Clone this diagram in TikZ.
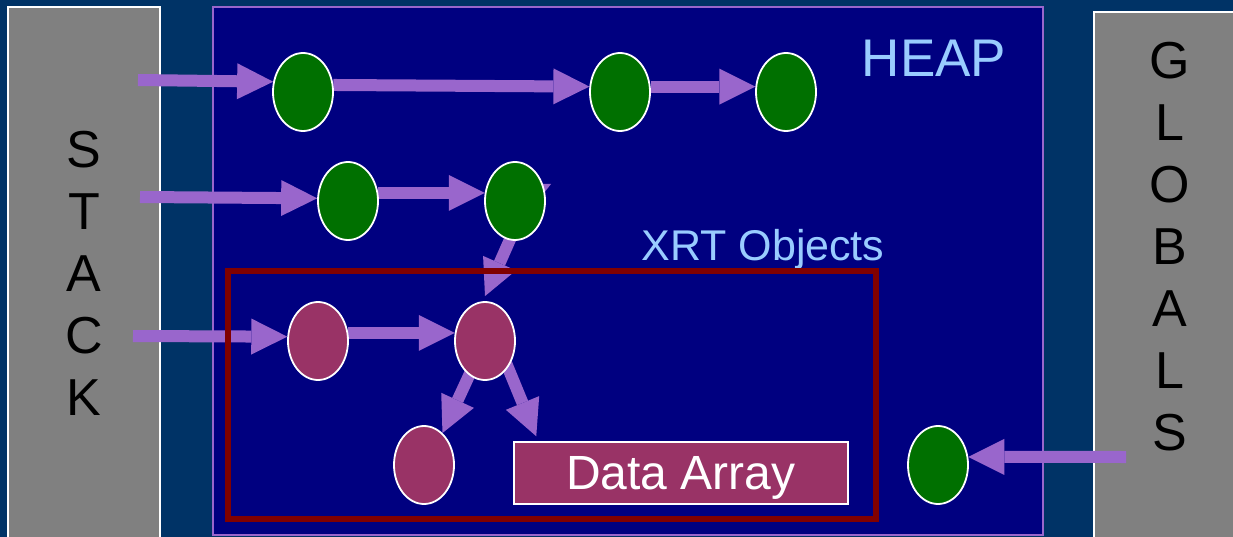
\documentclass[tikz,border=0pt]{standalone}
\usepackage{fontspec}
\setmainfont{Liberation Sans}
\usepackage{xcolor}
\usepackage{tikz}
\usetikzlibrary{arrows.meta,shapes.geometric}
\definecolor{bgblue}{HTML}{003366}
\definecolor{heapblue}{HTML}{000080}
\definecolor{boxgray}{HTML}{808080}
\definecolor{linkpurple}{HTML}{9966CC}
\definecolor{xrtborder}{HTML}{800000}
\definecolor{objgreen}{HTML}{007000}
\definecolor{xrtfill}{HTML}{993366}
\definecolor{lightblue}{HTML}{99CCFF}
\pgfdeclarelayer{bg}
\pgfdeclarelayer{links}
\pgfsetlayers{bg,links,main}

\begin{document}
\begin{tikzpicture}[x=1pt, y=-1pt,
  obj/.style={ellipse, draw=white, line width=1.8pt, fill=objgreen,
              minimum width=60pt, minimum height=78pt, inner sep=0pt},
  xobj/.style={obj, fill=xrtfill},
  arr/.style={-{Triangle[length=36pt, width=36pt, line width=0pt]},
              line width=12pt, linkpurple},
  vtext/.style={align=center, inner sep=0pt, font=\fontsize{52}{62}\selectfont},
  title/.style={anchor=base, inner sep=0pt, lightblue}
]
  \useasboundingbox (0,0) rectangle (1233,537);
  \begin{pgfonlayer}{bg}
    \fill[bgblue] (0,0) rectangle (1233,537);
    \draw[white, line width=2pt, fill=boxgray] (8,7) rectangle (160,545);
    \draw[white, line width=2pt, fill=boxgray] (1094,12) rectangle (1245,545);
    \draw[linkpurple, line width=2pt, fill=heapblue] (213,7) rectangle (1043,535);
  \end{pgfonlayer}

  % labels
  \node[vtext] (stack) at (84,273) {S\\T\\A\\C\\K};
  \node[vtext] (globals) at (1170,247) {G\\L\\O\\B\\A\\L\\S};
  \node[title, font=\fontsize{53}{60}\selectfont] (heap) at (934,77) {HEAP};
  \node[title, font=\fontsize{43}{50}\selectfont] (xrt) at (763,261) {XRT Objects};

  % XRT region
  \draw[xrtborder, line width=5.5pt] (228,271) rectangle (876,519);

  % objects
  \node[obj] (e1) at (303,92) {};
  \node[obj] (e2) at (620,92) {};
  \node[obj] (e3) at (786,92) {};
  \node[obj] (e4) at (348,201) {};
  \node[obj] (e5) at (515,201) {};
  \node[xobj] (e6) at (318,341) {};
  \node[xobj] (e7) at (485,341) {};
  \node[xobj] (e8) at (424,465) {};
  \node[obj] (e9) at (938,465) {};
  \node[draw=white, line width=1.5pt, fill=xrtfill, minimum width=334pt,
        minimum height=62pt, inner sep=0pt, text=white, text depth=0pt,
        font=\fontsize{48}{54}\selectfont] (data) at (681,473) {Data Array};

  % roots
  \coordinate (s1) at (138,80);
  \coordinate (s2) at (140,197);
  \coordinate (s3) at (133,336);
  \coordinate (g1) at (1126,457);
  \coordinate (e5out) at (551,184);

  \begin{pgfonlayer}{links}
    \draw[arr] (s1) -- (e1.161);
    \draw[arr] (e1.13) -- (e2.170);
    \draw[arr] (e2.10) -- (e3.170);
    \draw[arr] (s2) -- (e4.175);
    \draw[arr] (e4.15) -- (e5.165);
    \draw[arr] (e5.center) -- (e5out);
    \draw[arr] ([xshift=12pt]e5.center) -- ([yshift=5pt]e7.north);
    \draw[arr] (s3) -- (e6.172);
    \draw[arr] (e6.15) -- (e7.165);
    \draw[arr] (e7.center) -- (e8.60);
    \draw[arr] ([xshift=12pt]e7.center) -- ([xshift=23pt, yshift=5pt]data.north west);
    \draw[arr] (g1) -- (e9.15);
  \end{pgfonlayer}
\end{tikzpicture}
\end{document}
